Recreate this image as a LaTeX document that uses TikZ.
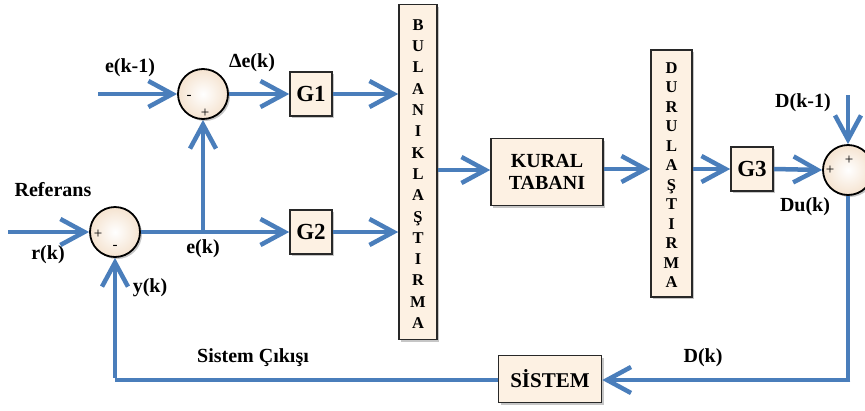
\documentclass[tikz,border=0pt]{standalone}
\usepackage{fontspec}
\setmainfont{Liberation Serif}
\usetikzlibrary{arrows.meta,shadows,calc}
\definecolor{flow}{RGB}{74,126,187}
\definecolor{boxfill}{RGB}{253,241,227}
\definecolor{boxedge}{RGB}{40,40,40}
\tikzset{
  sig/.style={draw=flow,line width=4.5pt},
  sigarrow/.style={sig,-{Straight Barb[length=24pt,width=26pt,line width=4.5pt]}},
  block/.style={draw=boxedge,line width=1.6pt,fill=boxfill,inner sep=0pt,
    drop shadow={shadow xshift=2pt,shadow yshift=-2pt,opacity=0.45},
    font=\bfseries\fontsize{20}{22}\selectfont},
  gain/.style={block,minimum width=42pt,minimum height=44pt,
    font=\bfseries\fontsize{23}{24}\selectfont},
  summer/.style={circle,draw=black,line width=1.8pt,minimum size=50pt,inner sep=0pt,
    inner color=white,outer color=boxfill!85!brown!90,
    drop shadow={shadow xshift=2pt,shadow yshift=-2pt,opacity=0.45}},
  lbl/.style={font=\bfseries\fontsize{20}{22}\selectfont,inner sep=0pt},
  sgn/.style={font=\fontsize{15}{15}\selectfont,inner sep=0pt},
  vtext/.style={font=\bfseries\fontsize{16.5}{#1}\selectfont,align=center,inner sep=0pt}
}
\begin{document}
\begin{tikzpicture}[x=1pt,y=-1pt]
\useasboundingbox (0,0) rectangle (865,410);
\begin{scope}
\clip (0,0) rectangle (865,410);
% blocks
\node[gain] (G1) at (311,94) {G1};
\node[gain] (G2) at (311,232) {G2};
\node[block,minimum width=38pt,minimum height=335pt] (bul) at (418,172) {};
\node[vtext=21.3] at (418,174) {B\\U\\L\\A\\N\\I\\K\\L\\A\\Ş\\T\\I\\R\\M\\A};
\node[block,minimum width=112pt,minimum height=67pt,align=center] (kural) at (547,172) {KURAL\\TABANI};
\node[block,minimum width=41pt,minimum height=247pt] (duru) at (671.5,173.5) {};
\node[vtext=19.5] at (671.5,175) {D\\U\\R\\U\\L\\A\\Ş\\T\\I\\R\\M\\A};
\node[gain] (G3) at (752,169) {G3};
\node[block,minimum width=103pt,minimum height=47pt,font=\bfseries\fontsize{21}{22}\selectfont] (sis) at (550,379) {SİSTEM};
% summing junctions
\node[summer] (c1) at (115,232) {};
\node[summer] (c2) at (203,94) {};
\node[summer] (c3) at (848,170) {};
\node[sgn] at ($(c1)+(-17,2)$) {+};
\node[sgn] at ($(c1)+(0,15)$) {-};
\node[sgn] at ($(c2)+(-14,3)$) {-};
\node[sgn] at ($(c2)+(2,19)$) {+};
\node[sgn] at ($(c3)+(-18,0)$) {+};
\node[sgn] at ($(c3)+(1,-10)$) {+};
% free ends and corners
\coordinate (rin) at (8,232);
\coordinate (ein) at (98,94);
\coordinate (din) at (848,95);
\coordinate (jn) at (c2 |- c1);
\coordinate (br) at (848,380);
\coordinate (bl) at (115,380);
% connectors
\draw[sigarrow] (rin) -- (c1.west);
\draw[sigarrow] (ein) -- (c2.west);
\draw[sigarrow] (c2.east) -- (G1.west);
\draw[sigarrow] (c1.east) -- (G2.west);
\draw[sigarrow] (jn) -- (c2.south);
\draw[sigarrow] (G1.east) -- (G1.east -| bul.west);
\draw[sigarrow] (G2.east) -- (G2.east -| bul.west);
\draw[sigarrow] (bul.east |- 0,170) -- (kural.west |- 0,170);
\draw[sigarrow] (kural.east |- 0,169) -- (duru.west |- 0,169);
\draw[sigarrow] (duru.east |- G3) -- (G3.west);
\draw[sigarrow] (G3.east) -- (c3.west);
\draw[sigarrow] (din) -- (c3.north);
\draw[sig] (c3.south) -- (br);
\draw[sigarrow] ([xshift=2.25pt]br) -- (sis.east |- br);
\draw[sig] (sis.west |- br) -- (bl);
\draw[sigarrow] ([yshift=2.25pt]bl) -- (c1.south);
% labels
\node[lbl] at (130,68) {e(k-1)};
\node[lbl] at (252,63) {Δe(k)};
\node[lbl] at (53,190) {Referans};
\node[lbl] at (48,255) {r(k)};
\node[lbl] at (203,249) {e(k)};
\node[lbl] at (150,288) {y(k)};
\node[lbl] at (253,358) {Sistem Çıkışı};
\node[lbl] at (703,358) {D(k)};
\node[lbl] at (803,103) {D(k-1)};
\node[lbl] at (805,207) {Du(k)};
\end{scope}
\end{tikzpicture}
\end{document}
